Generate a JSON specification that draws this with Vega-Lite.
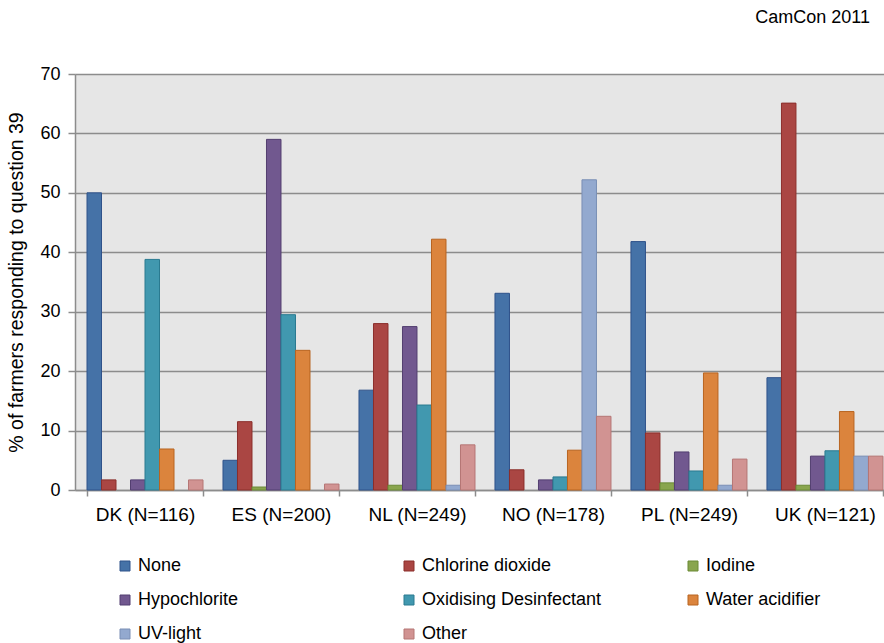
{
  "$schema": "https://vega.github.io/schema/vega-lite/v6.json",
  "autosize": "none",
  "width": 809,
  "height": 416,
  "padding": {"left": 75, "top": 74, "right": 0, "bottom": 153},
  "background": "white",
  "title": {"text": "CamCon 2011", "anchor": "end", "orient": "top", "offset": 38, "dx": -14, "fontSize": 18, "fontWeight": "normal", "font": "Liberation Sans", "color": "#000000"},
  "config": {
    "view": {"fill": "#E6E6E6", "stroke": null},
    "font": "Liberation Sans",
    "axis": {"labelFont": "Liberation Sans", "titleFont": "Liberation Sans", "labelColor": "#000000", "titleColor": "#000000", "domainColor": "#8C8C8C", "tickColor": "#8C8C8C", "gridColor": "#8C8C8C", "labelFontSize": 18, "titleFontSize": 19.5, "titleFontWeight": "normal"}
  },
  "data": {"values": [
    {"country": "DK (N=116)", "product": "None", "pct": 50},
    {"country": "DK (N=116)", "product": "Chlorine dioxide", "pct": 1.7},
    {"country": "DK (N=116)", "product": "Iodine", "pct": 0},
    {"country": "DK (N=116)", "product": "Hypochlorite", "pct": 1.7},
    {"country": "DK (N=116)", "product": "Oxidising Desinfectant", "pct": 38.8},
    {"country": "DK (N=116)", "product": "Water acidifier", "pct": 6.9},
    {"country": "DK (N=116)", "product": "UV-light", "pct": 0},
    {"country": "DK (N=116)", "product": "Other", "pct": 1.7},
    {"country": "ES (N=200)", "product": "None", "pct": 5},
    {"country": "ES (N=200)", "product": "Chlorine dioxide", "pct": 11.5},
    {"country": "ES (N=200)", "product": "Iodine", "pct": 0.5},
    {"country": "ES (N=200)", "product": "Hypochlorite", "pct": 59},
    {"country": "ES (N=200)", "product": "Oxidising Desinfectant", "pct": 29.5},
    {"country": "ES (N=200)", "product": "Water acidifier", "pct": 23.5},
    {"country": "ES (N=200)", "product": "UV-light", "pct": 0},
    {"country": "ES (N=200)", "product": "Other", "pct": 1.0},
    {"country": "NL (N=249)", "product": "None", "pct": 16.8},
    {"country": "NL (N=249)", "product": "Chlorine dioxide", "pct": 28},
    {"country": "NL (N=249)", "product": "Iodine", "pct": 0.8},
    {"country": "NL (N=249)", "product": "Hypochlorite", "pct": 27.5},
    {"country": "NL (N=249)", "product": "Oxidising Desinfectant", "pct": 14.3},
    {"country": "NL (N=249)", "product": "Water acidifier", "pct": 42.2},
    {"country": "NL (N=249)", "product": "UV-light", "pct": 0.8},
    {"country": "NL (N=249)", "product": "Other", "pct": 7.6},
    {"country": "NO (N=178)", "product": "None", "pct": 33.1},
    {"country": "NO (N=178)", "product": "Chlorine dioxide", "pct": 3.4},
    {"country": "NO (N=178)", "product": "Iodine", "pct": 0},
    {"country": "NO (N=178)", "product": "Hypochlorite", "pct": 1.7},
    {"country": "NO (N=178)", "product": "Oxidising Desinfectant", "pct": 2.2},
    {"country": "NO (N=178)", "product": "Water acidifier", "pct": 6.7},
    {"country": "NO (N=178)", "product": "UV-light", "pct": 52.2},
    {"country": "NO (N=178)", "product": "Other", "pct": 12.4},
    {"country": "PL (N=249)", "product": "None", "pct": 41.8},
    {"country": "PL (N=249)", "product": "Chlorine dioxide", "pct": 9.6},
    {"country": "PL (N=249)", "product": "Iodine", "pct": 1.2},
    {"country": "PL (N=249)", "product": "Hypochlorite", "pct": 6.4},
    {"country": "PL (N=249)", "product": "Oxidising Desinfectant", "pct": 3.2},
    {"country": "PL (N=249)", "product": "Water acidifier", "pct": 19.7},
    {"country": "PL (N=249)", "product": "UV-light", "pct": 0.8},
    {"country": "PL (N=249)", "product": "Other", "pct": 5.2},
    {"country": "UK (N=121)", "product": "None", "pct": 18.9},
    {"country": "UK (N=121)", "product": "Chlorine dioxide", "pct": 65.1},
    {"country": "UK (N=121)", "product": "Iodine", "pct": 0.8},
    {"country": "UK (N=121)", "product": "Hypochlorite", "pct": 5.7},
    {"country": "UK (N=121)", "product": "Oxidising Desinfectant", "pct": 6.6},
    {"country": "UK (N=121)", "product": "Water acidifier", "pct": 13.2},
    {"country": "UK (N=121)", "product": "UV-light", "pct": 5.7},
    {"country": "UK (N=121)", "product": "Other", "pct": 5.7}
  ]},
  "transform": [{"filter": "datum.pct > 0"}],
  "mark": {"type": "bar", "strokeWidth": 1},
  "encoding": {
    "x": {"field": "country", "type": "nominal", "sort": null,
      "scale": {"paddingInner": 0.147, "paddingOuter": 0.048, "align": 0.92},
      "axis": {"title": null, "labelAngle": 0, "labelPadding": 9, "labelFontSize": 19, "tickBand": "extent", "tickSize": 6, "domainWidth": 1.5, "tickWidth": 1.5, "grid": false}},
    "xOffset": {"field": "product", "type": "nominal", "sort": ["None","Chlorine dioxide","Iodine","Hypochlorite","Oxidising Desinfectant","Water acidifier","UV-light","Other"], "scale": {"paddingInner": 0, "paddingOuter": 0}},
    "y": {"field": "pct", "type": "quantitative",
      "scale": {"domain": [0, 70]},
      "axis": {"title": "% of farmers responding to question 39", "values": [0,10,20,30,40,50,60,70], "tickSize": 7, "labelPadding": 8, "titlePadding": 13, "gridWidth": 1.5, "domainWidth": 1.5, "tickWidth": 1.5}},
    "fill": {"field": "product", "type": "nominal", "sort": null,
      "scale": {"domain": ["None","Chlorine dioxide","Iodine","Hypochlorite","Oxidising Desinfectant","Water acidifier","UV-light","Other"],
                "range": ["#4572A7","#AA4643","#89A54E","#71588F","#4198AF","#DB843D","#93A9CF","#D19392"]},
      "legend": {"orient": "none", "legendX": 41, "legendY": 483, "columns": 3, "direction": "horizontal", "gridAlign": "all", "columnPadding": 82, "rowPadding": 16, "symbolType": "square", "symbolSize": 100, "symbolStrokeWidth": 1, "labelFontSize": 18, "labelFont": "Liberation Sans", "labelColor": "#000000", "labelOffset": 4, "title": null, "labelLimit": 400}},
    "stroke": {"field": "product", "type": "nominal", "sort": null,
      "scale": {"domain": ["None","Chlorine dioxide","Iodine","Hypochlorite","Oxidising Desinfectant","Water acidifier","UV-light","Other"],
                "range": ["#2F528A","#8B2E2B","#6B8A35","#533F70","#2A7A90","#B86420","#7A8FB5","#B57675"]},
      "legend": null}
  }
}
